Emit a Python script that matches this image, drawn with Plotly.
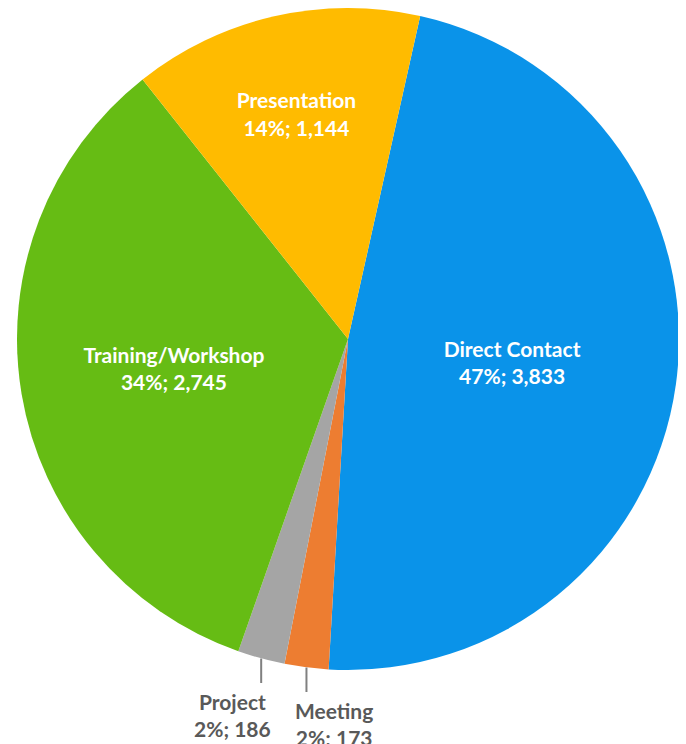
import math
import plotly.graph_objects as go

categories = ["Direct Contact", "Meeting", "Project", "Training/Workshop", "Presentation"]
values = [3833, 173, 186, 2745, 1144]
percent_labels = ["47%", "2%", "2%", "34%", "14%"]
value_labels = ["3,833", "173", "186", "2,745", "1,144"]
colors = ["#0A93E9", "#ED7D31", "#A5A5A5", "#66BC14", "#FFBB00"]
outside = [False, True, True, False, False]
label_dx = [0, 28, -29, 0, 0]   # horizontal offset (px) of outside labels from their leader line

# the page body adds an 8px margin, so the figure is sized to the visible area
W, H = 678, 736
M = dict(l=9, r=7, t=0, b=74)
ROT = 12.6
FONT = "Lato, Open Sans, sans-serif"

texts = [f"<b>{c}<br>{p}; {v}</b>" for c, p, v in zip(categories, percent_labels, value_labels)]
positions = ["none" if o else "inside" for o in outside]

fig = go.Figure(go.Pie(
    labels=categories,
    values=values,
    text=texts,
    textinfo="text",
    textposition=positions,
    insidetextorientation="horizontal",
    textfont=dict(family=FONT, size=21, color="white"),
    marker=dict(colors=colors, line=dict(color="white", width=0)),
    sort=False,
    direction="clockwise",
    rotation=ROT,
    hoverinfo="label+value+percent",
    showlegend=False,
))

# leader lines + labels for the small slices, derived from the slice angles
pw = W - M["l"] - M["r"]
ph = H - M["t"] - M["b"]
rad = min(pw, ph) / 2
total = sum(values)
cum = 0
for cat, val, txt, o, dx in zip(categories, values, texts, outside, label_dx):
    mid = (cum + val / 2) / total
    cum += val
    if not o:
        continue
    theta = math.radians(ROT + 360 * mid)
    px = 0.5 + rad * math.sin(theta) / pw
    py = 0.5 + rad * math.cos(theta) / ph
    fig.add_annotation(x=px, y=py, xref="paper", yref="paper", text="",
                       showarrow=True, arrowhead=0, arrowwidth=2, arrowcolor="#808080",
                       ax=0, ay=26, axref="pixel", ayref="pixel")
    fig.add_annotation(x=px, y=py, xref="paper", yref="paper", text=txt,
                       showarrow=False, xanchor="center", yanchor="top",
                       xshift=dx, yshift=-29,
                       font=dict(family=FONT, size=21, color="#595959"))

fig.update_layout(
    width=W, height=H,
    margin=M,
    paper_bgcolor="white",
    plot_bgcolor="white",
    showlegend=False,
)

fig.write_html("out.html")
